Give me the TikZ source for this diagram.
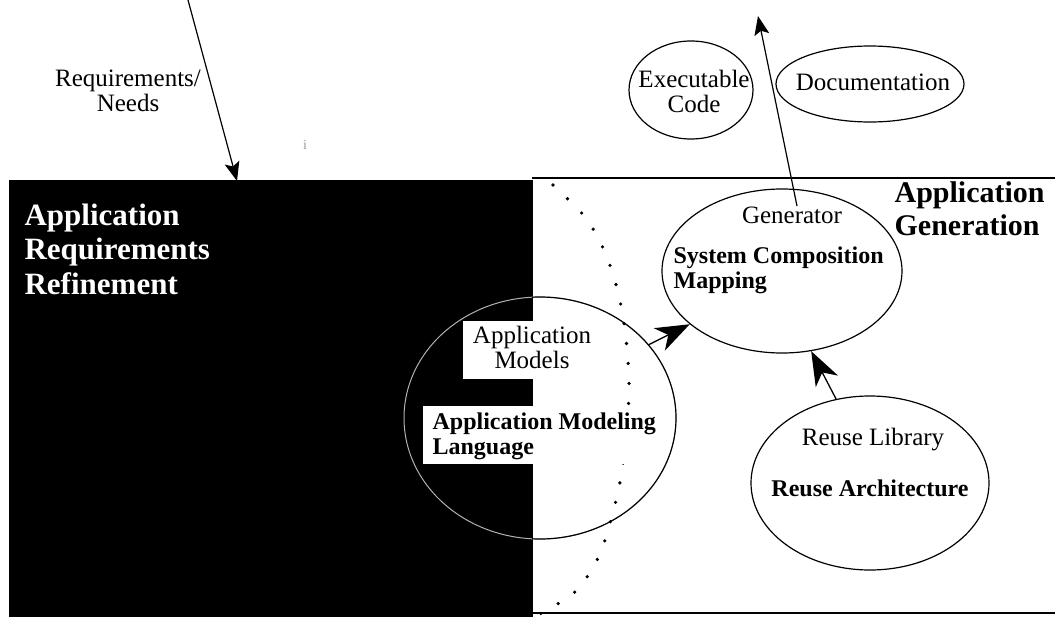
\documentclass[tikz,border=0pt]{standalone}
\usepackage{fontspec}
\setmainfont{Liberation Serif}
\usetikzlibrary{arrows.meta,shapes.geometric,positioning}

\begin{document}
\begin{tikzpicture}
[x=1pt, y=-1pt, line width=1.2pt, >={Stealth[length=19pt,width=15pt,inset=4pt]},
txt/.style={font=\fontsize{25}{25}\selectfont},
btxt/.style={font=\bfseries\fontsize{24}{25}\selectfont},
bubble/.style={ellipse, draw, inner sep=0pt},
cover/.style={rectangle, fill=white, inner sep=0pt, anchor=north west},
fat/.style={-{Stealth[length=34pt,width=25pt,inset=10pt]}, line width=1.3pt},
dots/.style={line width=3.6pt, line cap=round, dash pattern=on 0pt off 20pt}]

\useasboundingbox (0,0) rectangle (1055,616);

\node[fill=black, inner sep=0pt, anchor=north west, minimum width=524pt, minimum height=437pt] (refine) at (8,179) {};

\draw[line width=1.8pt] (532,178) -- (1055,178);
\draw[line width=2.2pt] (532,613) -- (1055,613);

\node[bubble, draw=gray!60, line width=1pt, minimum width=272pt, minimum height=242pt] (aml) at (540,418) {};
\begin{scope}
  \clip (532,170) rectangle (1055,616);
  \draw (aml.center) ellipse [x radius=136, y radius=121];
\end{scope}

\draw[dots] plot[smooth, tension=.5] coordinates {(553,185) (585,217) (604,250) (617,288) (625,330) (629,380) (627,430) (621,477) (612,516) (599,556) (576,591) (540,614)};

\node[cover, minimum width=80pt, minimum height=58pt] (modbox) at (462,320) {};
\node[cover, minimum width=238pt, minimum height=58pt] (amlbox) at (422,405) {};

\node[bubble, minimum width=124pt, minimum height=98pt] (exe) at (691,90) {};
\node[bubble, minimum width=188pt, minimum height=76pt] (doc) at (870,84) {};
\node[bubble, minimum width=240pt, minimum height=164pt] (scm) at (782,271) {};
\node[bubble, minimum width=238pt, minimum height=174pt] (reuse) at (870,483) {};

\node[txt, align=center] (req) at (128,91) {Requirements/\\Needs};
\node[font=\fontsize{14}{14}\selectfont, text=gray!80] (tick) at (305,145) {i};
\node[txt, align=center] (exetxt) at (694,91) {Executable\\Code};
\node[txt, anchor=base] (doctxt) at (873,90) {Documentation};
\node[txt, anchor=base] (gen) at (792,223) {Generator};
\node[btxt, align=left, anchor=north west, inner sep=0pt] (scmtxt) at (673,246) {System Composition\\Mapping};
\node[font=\bfseries\fontsize{30}{33}\selectfont, align=left, anchor=north west, inner sep=0pt] (appgen) at (894,181) {Application\\Generation};
\node[font=\bfseries\fontsize{31}{34.5}\selectfont, text=white, align=left, anchor=north west, inner sep=0pt] (arr) at (24,203) {Application\\Requirements\\Refinement};
\node[txt, align=center] (models) at (532,347) {Application\\Models};
\node[btxt, align=left, anchor=north west, inner sep=0pt] (amltxt) at (432,412) {Application Modeling\\Language};
\node[txt, anchor=base] (lib) at (873,445) {Reuse Library};
\node[btxt, anchor=base] (arch) at (870,496) {Reuse Architecture};

\coordinate (reqsrc) at (188,0);
\coordinate (reqin) at (237,181);
\draw[->] (reqsrc) -- (reqin);
\coordinate (gentail) at (797,206);
\coordinate (genout) at (758,16);
\draw[->] (gentail) -- (genout);
\draw[fat] (aml.34) -- (scm.210);
\draw[fat] (reuse.112) -- (scm.290);
\end{tikzpicture}
\end{document}
